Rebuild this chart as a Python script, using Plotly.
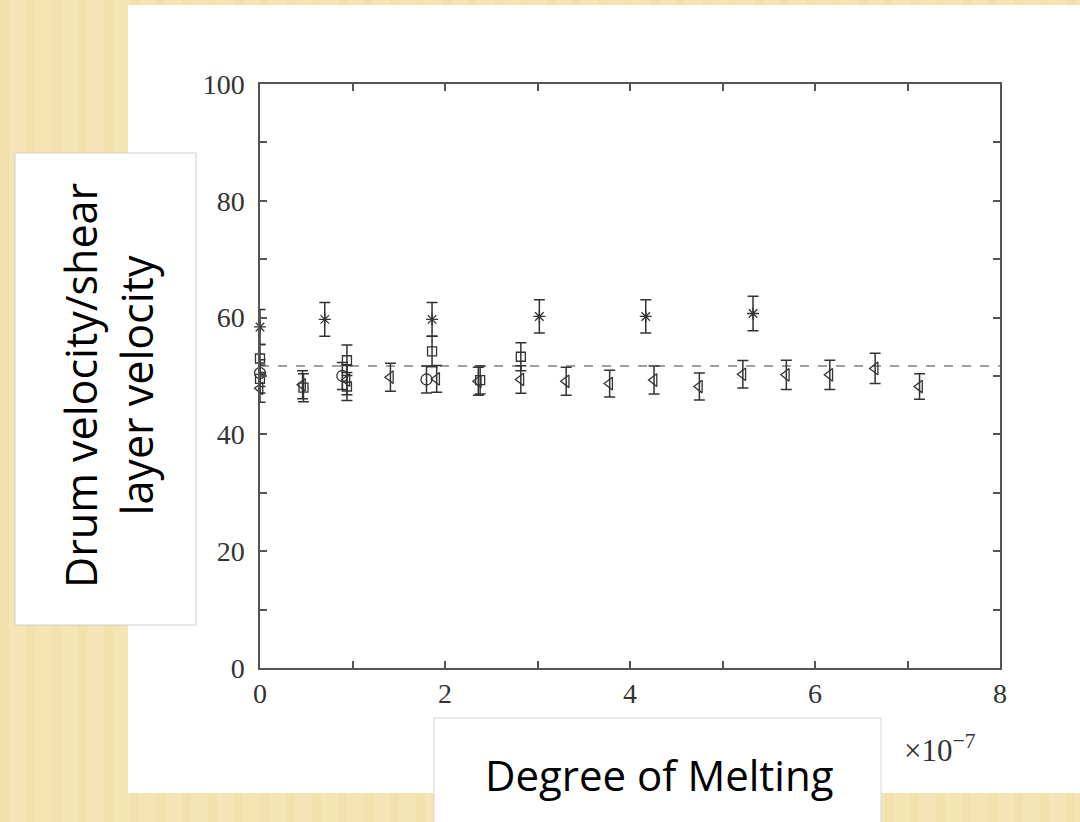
import plotly.graph_objects as go

# x values are in units of 1e-7 (axis multiplier shown as x10^-7)
tri_x = [0.0, 0.46, 0.94, 1.41, 1.91, 2.36, 2.82, 3.31, 3.78, 4.26, 4.75, 5.22, 5.69, 6.16, 6.65, 7.13]
tri_y = [47.9, 48.5, 49.3, 49.8, 49.5, 49.1, 49.4, 49.1, 48.7, 49.3, 48.2, 50.3, 50.2, 50.2, 51.3, 48.2]
tri_e = [2.4, 2.4, 2.5, 2.4, 2.3, 2.4, 2.35, 2.4, 2.3, 2.4, 2.3, 2.35, 2.5, 2.5, 2.6, 2.2]

sq_x = [0.0, 0.0, 0.47, 0.94, 0.94, 1.86, 2.38, 2.82]
sq_y = [53.0, 49.5, 48.0, 52.7, 48.2, 54.2, 49.3, 53.3]
sq_e = [2.4, 2.4, 2.4, 2.6, 2.4, 2.6, 2.4, 2.4]

circ_x = [0.0, 0.89, 1.80]
circ_y = [50.5, 50.0, 49.4]
circ_e = [2.3, 2.3, 2.3]

star_x = [0.0, 0.70, 1.86, 3.02, 4.17, 5.33]
star_y = [58.4, 59.7, 59.7, 60.2, 60.2, 60.7]
star_e = [3.0, 2.9, 2.9, 2.85, 2.85, 2.95]

mean_x = [0.0, 8.0]
mean_y = [51.7, 51.7]

x_ticks = [0, 2, 4, 6, 8]
y_ticks = [0, 20, 40, 60, 80, 100]

W, H = 1080, 822
L, R, T, B = 260, 1000, 84, 668  # plot area in pixels


def px(x):
    return (x - L) / (R - L)


def py(y):
    return (B - y) / (B - T)


INK = "#333333"

fig = go.Figure()

fig.add_trace(go.Scatter(x=mean_x, y=mean_y, mode="lines",
                         line=dict(color="#808080", width=1.6, dash="dash"),
                         hoverinfo="skip", showlegend=False))


def add_series(xs, ys, es, symbol, size):
    fig.add_trace(go.Scatter(
        x=xs, y=ys, mode="markers",
        marker=dict(symbol=symbol, size=size, color=INK,
                    line=dict(color=INK, width=1.3)),
        error_y=dict(type="data", array=es, visible=True, color=INK,
                     thickness=1.5, width=5.5),
        cliponaxis=False, showlegend=False))


add_series(tri_x, tri_y, tri_e, "triangle-left-open", 11)
add_series(sq_x, sq_y, sq_e, "square-open", 9)
add_series(circ_x, circ_y, circ_e, "circle-open", 11)
add_series(star_x, star_y, star_e, "asterisk-open", 10)

shapes = []
# subtle vertical stripes in the yellow background (decoration)
for i in range(0, 1080, 26):
    shapes.append(dict(type="rect", xref="paper", yref="paper", layer="below",
                       x0=px(i), x1=px(i + 9), y0=py(822), y1=py(0),
                       fillcolor="rgba(230,200,120,0.15)", line=dict(width=0)))
# white slide panel
shapes.append(dict(type="rect", xref="paper", yref="paper", layer="below",
                   x0=px(128), x1=px(1085), y0=py(793), y1=py(5),
                   fillcolor="white", line=dict(width=0)))
# y label box
shapes.append(dict(type="rect", xref="paper", yref="paper", layer="below",
                   x0=px(15), x1=px(196), y0=py(625), y1=py(153),
                   fillcolor="white", line=dict(color="#cfcfcf", width=1)))
# x label box
shapes.append(dict(type="rect", xref="paper", yref="paper", layer="below",
                   x0=px(434), x1=px(881), y0=py(826), y1=py(718),
                   fillcolor="white", line=dict(color="#d5d5d5", width=1)))

annotations = [
    dict(xref="paper", yref="paper", x=px(108), y=py(386),
         text="Drum velocity/shear<br>layer velocity", showarrow=False,
         textangle=-90, xanchor="center", yanchor="middle",
         font=dict(family="Open Sans", size=43, color="black")),
    dict(xref="paper", yref="paper", x=px(659), y=py(774),
         text="Degree of Melting", showarrow=False,
         xanchor="center", yanchor="middle",
         font=dict(family="Open Sans", size=42, color="black")),
    dict(xref="paper", yref="paper", x=px(940), y=py(748),
         text="×10<sup>−7</sup>", showarrow=False,
         xanchor="center", yanchor="middle",
         font=dict(family="Liberation Serif", size=31, color=INK)),
]

axis_common = dict(showgrid=False, zeroline=False, showline=True, linecolor="#555555",
                   linewidth=1.5, mirror="ticks", ticks="inside", ticklen=7,
                   tickwidth=1.5, tickcolor="#555555",
                   tickfont=dict(family="Liberation Serif", size=28, color=INK))

fig.update_layout(
    width=W, height=H,
    margin=dict(l=L, r=W - R, t=T, b=H - B, autoexpand=False),
    paper_bgcolor="#f6e5b4", plot_bgcolor="rgba(0,0,0,0)",
    shapes=shapes, annotations=annotations, showlegend=False,
    xaxis=dict(range=[0, 8], tickmode="array", tickvals=x_ticks,
               ticktext=[str(v) for v in x_ticks],
               minor=dict(dtick=1, tick0=0, ticks="inside", ticklen=7,
                          tickwidth=1.5, tickcolor="#555555"),
               **axis_common),
    yaxis=dict(range=[0, 100], tickmode="array", tickvals=y_ticks,
               ticktext=[str(v) for v in y_ticks], ticklabelstandoff=8,
               minor=dict(dtick=10, tick0=0, ticks="inside", ticklen=7,
                          tickwidth=1.5, tickcolor="#555555"),
               **axis_common),
)

fig.write_html("out.html", config={"displayModeBar": False},
               post_script="document.body.style.margin='0';document.body.style.overflow='hidden';")
